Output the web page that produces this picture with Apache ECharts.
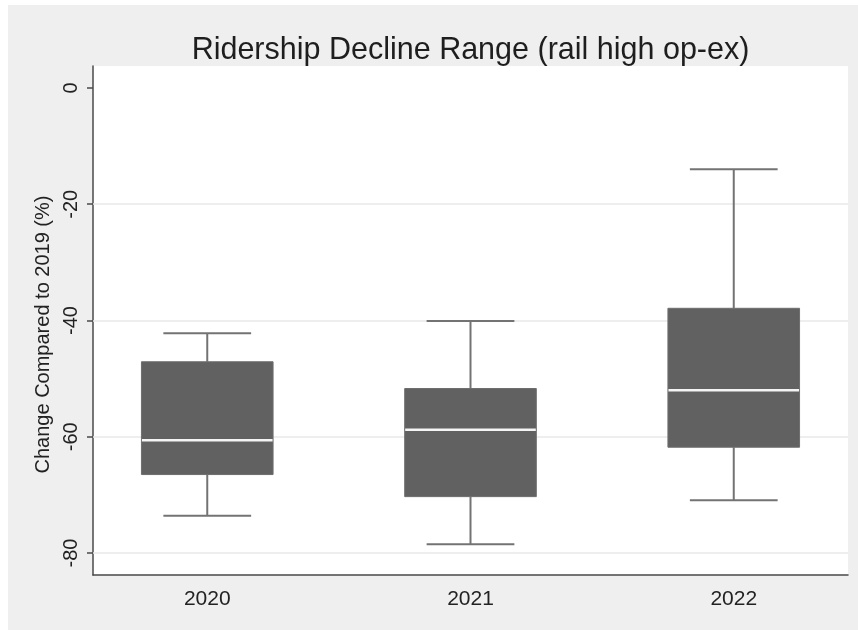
<!DOCTYPE html>
<html>
<head>
<meta charset="utf-8">
<title>Ridership Decline Range (rail high op-ex)</title>
<script src="https://cdn.jsdelivr.net/npm/echarts@6/dist/echarts.min.js"></script>
<style>
  html, body { margin: 0; padding: 0; background: #ffffff; }
  #chart { position: absolute; left: 8px; top: 5px; width: 850px; height: 625px; }
</style>
</head>
<body>
<div id="chart"></div>
<script>
// Box-plot summary per year (percent change vs 2019)
const years = [2020, 2021, 2022];
const lowerWhisker = [-73.6, -78.5, -70.9];
const lowerQuartile = [-66.5, -70.3, -61.8];
const medians = [-60.6, -58.8, -52.0];
const upperQuartile = [-47.1, -51.7, -37.9];
const upperWhisker = [-42.2, -40.1, -14.0];

const yTickValues = [0, -20, -40, -60, -80];
const gridValues = [-20, -40, -60, -80];

const FONT = "'Liberation Sans', Arial, Helvetica, sans-serif";
const BOX_WIDTH = 0.5;    // in years
const CAP_WIDTH = 1 / 3;  // in years

const boxData = years.map((y, i) => [
  y, lowerWhisker[i], lowerQuartile[i], medians[i], upperQuartile[i], upperWhisker[i]
]);

function renderBox(params, api) {
  const x = api.value(0);
  const lo = api.coord([x, api.value(1)]);
  const q1 = api.coord([x, api.value(2)]);
  const md = api.coord([x, api.value(3)]);
  const q3 = api.coord([x, api.value(4)]);
  const hi = api.coord([x, api.value(5)]);
  const bw = api.size([BOX_WIDTH, 0])[0];
  const cw = api.size([CAP_WIDTH, 0])[0];
  const cx = lo[0];
  const whisker = { stroke: '#737373', lineWidth: 2 };
  return {
    type: 'group',
    children: [
      { type: 'line', shape: { x1: cx, y1: q3[1], x2: cx, y2: hi[1] }, style: whisker },
      { type: 'line', shape: { x1: cx, y1: q1[1], x2: cx, y2: lo[1] }, style: whisker },
      { type: 'line', shape: { x1: cx - cw / 2, y1: hi[1], x2: cx + cw / 2, y2: hi[1] }, style: whisker },
      { type: 'line', shape: { x1: cx - cw / 2, y1: lo[1], x2: cx + cw / 2, y2: lo[1] }, style: whisker },
      {
        type: 'rect',
        shape: { x: cx - bw / 2, y: q3[1], width: bw, height: q1[1] - q3[1] },
        style: { fill: '#616161', stroke: '#6e6e6e', lineWidth: 1 }
      },
      {
        type: 'line',
        shape: { x1: cx - bw / 2 + 0.5, y1: md[1], x2: cx + bw / 2 - 0.5, y2: md[1] },
        style: { stroke: '#f4f4f4', lineWidth: 2.5 }
      }
    ]
  };
}

const chart = echarts.init(document.getElementById('chart'), null, { renderer: 'canvas' });

chart.setOption({
  backgroundColor: '#efefef',
  animation: false,
  title: {
    text: 'Ridership Decline Range (rail high op-ex)',
    left: 457.5,
    top: 25,
    textAlign: 'center',
    textStyle: { fontFamily: FONT, fontSize: 30.5, fontWeight: 'normal', color: '#1e1e1e' }
  },
  grid: {
    left: 85, right: 10, top: 61, bottom: 55,
    show: true, backgroundColor: '#ffffff', borderWidth: 0
  },
  xAxis: {
    type: 'value',
    min: 2019.566,
    max: 2022.434,
    axisLine: { show: true, onZero: false, lineStyle: { color: '#4a4a4a', width: 1.5 } },
    axisTick: { show: false },
    splitLine: { show: false },
    axisLabel: {
      customValues: years,
      margin: 14,
      fontFamily: FONT, fontSize: 21, color: '#222222',
      formatter: v => String(Math.round(v))
    }
  },
  yAxis: {
    type: 'value',
    min: -83.78,
    max: 3.78,
    name: 'Change Compared to 2019 (%)',
    nameLocation: 'middle',
    nameRotate: 90,
    nameGap: 36,
    nameTextStyle: { fontFamily: FONT, fontSize: 20, color: '#222222', padding: [0, 28, 0, 0] },
    axisLine: { show: true, onZero: false, lineStyle: { color: '#4a4a4a', width: 1.5 } },
    axisTick: { show: true, customValues: yTickValues, length: 6, lineStyle: { color: '#4a4a4a', width: 1.5 } },
    splitLine: { show: false },
    axisLabel: {
      customValues: yTickValues,
      rotate: 90,
      margin: 12,
      fontFamily: FONT, fontSize: 20, color: '#222222'
    }
  },
  series: [{
    type: 'custom',
    z: 3,
    renderItem: renderBox,
    encode: { x: 0, y: [1, 2, 3, 4, 5] },
    data: boxData,
    markLine: {
      silent: true,
      z: 1,
      symbol: ['none', 'none'],
      label: { show: false },
      lineStyle: { color: '#e8e8e8', width: 1.5, type: 'solid' },
      emphasis: { disabled: true },
      data: gridValues.map(v => ({ yAxis: v }))
    }
  }]
});
</script>
</body>
</html>
